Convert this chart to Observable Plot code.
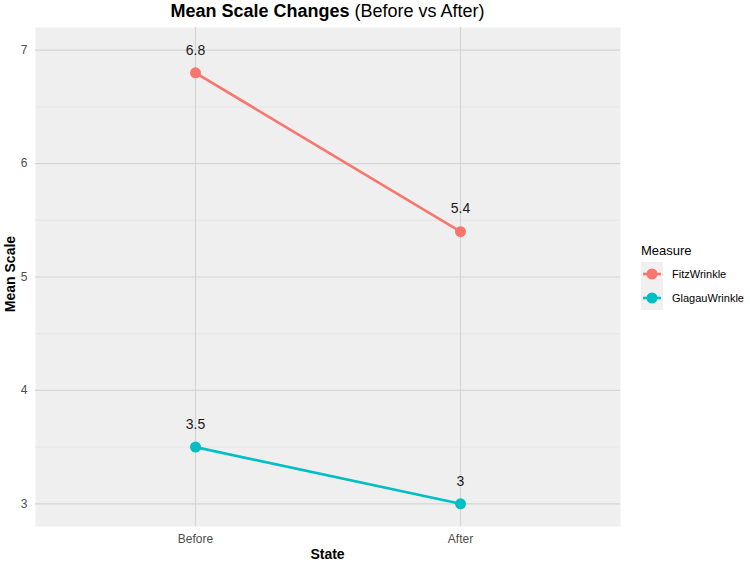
<!DOCTYPE html>
<html><head><meta charset="utf-8">
<script src="https://cdn.jsdelivr.net/npm/d3@7"></script>
<script src="https://cdn.jsdelivr.net/npm/@observablehq/plot@0.6"></script>
<style>
body{margin:0;background:#fff;font-family:"Liberation Sans",Arial,sans-serif}
#wrap{position:relative;width:750px;height:563px;overflow:hidden}
#title{position:absolute;top:1px;left:35px;width:585px;text-align:center;font-size:18px;color:#000;white-space:nowrap}
#xtitle{position:absolute;top:546px;left:35px;width:585px;text-align:center;font-size:14px;font-weight:bold;color:#000}
#ytitle{position:absolute;left:-40px;top:266px;width:100px;text-align:center;font-size:14px;font-weight:bold;color:#000;transform:rotate(-90deg)}
#legend{position:absolute;left:641px;top:243px;font-size:11px;color:#000}
#legend .lt{font-size:13px;margin-bottom:4px}
#legend .row{display:flex;align-items:center;height:24px}
#legend svg{display:block;background:#F0F0F0}
#legend span{margin-left:9px}
</style></head><body>
<div id="wrap">
<div id="chart"></div>
<div id="title"><b>Mean Scale Changes</b> (Before vs After)</div>
<div id="xtitle">State</div>
<div id="ytitle">Mean Scale</div>
<div id="legend"></div>
</div>
<script>
const states = ["Before", "After"];
const measures = ["FitzWrinkle", "GlagauWrinkle"];
const fitzValues = [6.8, 5.4];
const glagauValues = [3.5, 3.0];
const colors = ["#F8766D", "#00BFC4"];
const yTicks = [3, 4, 5, 6, 7];
const yMinor = [3.5, 4.5, 5.5, 6.5];
const legendTitle = "Measure";
const labelNudge = 0.2;

const seriesValues = [fitzValues, glagauValues];
const data = [];
measures.forEach((m, j) => states.forEach((s, i) => data.push({measure: m, state: s, value: seriesValues[j][i]})));

const chart = Plot.plot({
  width: 750,
  height: 563,
  marginLeft: 35,
  marginRight: 130,
  marginTop: 27,
  marginBottom: 37,
  style: {fontFamily: "Liberation Sans, Arial, sans-serif", background: "transparent"},
  x: {type: "point", domain: states, padding: 0.6},
  y: {domain: [2.8, 7.2]},
  color: {domain: measures, range: colors},
  marks: [
    Plot.frame({fill: "#EFEFEF", stroke: null}),
    Plot.ruleY(yMinor, {stroke: "#E3E3E3", strokeWidth: 0.8}),
    Plot.ruleY(yTicks, {stroke: "#D5D5D5", strokeWidth: 1.2}),
    Plot.ruleX(states, {stroke: "#D5D5D5", strokeWidth: 1.2}),
    Plot.axisY({ticks: yTicks, tickFormat: d => String(d), tickSize: 0, tickPadding: 8, fontSize: 12, color: "#4D4D4D", label: null}),
    Plot.axisX({tickSize: 0, tickPadding: 8, fontSize: 12, color: "#4D4D4D", label: null}),
    Plot.line(data, {x: "state", y: "value", z: "measure", stroke: "measure", strokeWidth: 2.6}),
    Plot.dot(data, {x: "state", y: "value", fill: "measure", r: 5.5}),
    Plot.text(data, {x: "state", y: d => d.value + labelNudge, text: d => String(d.value), fontSize: 14, fill: "#1a1a1a"})
  ]
});
document.getElementById("chart").appendChild(chart);

const leg = document.getElementById("legend");
const t = document.createElement("div"); t.className = "lt"; t.textContent = legendTitle; leg.appendChild(t);
measures.forEach((m, i) => {
  const row = document.createElement("div"); row.className = "row";
  row.innerHTML = `<svg width="22" height="24"><line x1="2" x2="20" y1="12" y2="12" stroke="${colors[i]}" stroke-width="2.6"/><circle cx="11" cy="12" r="5.5" fill="${colors[i]}"/></svg><span>${m}</span>`;
  leg.appendChild(row);
});
</script>
</body></html>
